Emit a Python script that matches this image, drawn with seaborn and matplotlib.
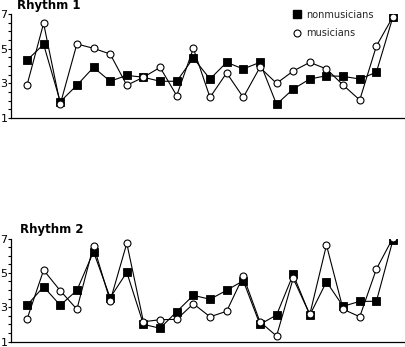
import matplotlib
matplotlib.use("Agg")
import matplotlib.pyplot as plt
from matplotlib.lines import Line2D
from matplotlib.ticker import MultipleLocator
import numpy as np
import pandas as pd
import seaborn as sns

# Ratings per rhythm position (1..23)
positions = list(range(1, 24))

r1_nonmusicians = [4.33, 5.25, 1.94, 2.89, 3.92, 3.12, 3.46, 3.35, 3.12, 3.12, 4.46,
                   3.25, 4.21, 3.83, 4.21, 1.79, 2.67, 3.25, 3.44, 3.40, 3.25, 3.64, 6.85]
r1_musicians = [2.89, 6.46, 1.79, 5.27, 5.02, 4.69, 2.89, 3.35, 3.92, 2.29, 5.02,
                2.19, 3.60, 2.19, 3.92, 3.00, 3.71, 4.21, 3.83, 2.90, 2.04, 5.15, 6.85]

r2_nonmusicians = [3.11, 4.19, 3.11, 3.98, 6.23, 3.55, 5.03, 2.00, 1.77, 2.74, 3.69,
                   3.46, 3.98, 4.54, 2.00, 2.54, 4.91, 2.54, 4.48, 3.05, 3.34, 3.34, 6.93]
r2_musicians = [2.29, 5.16, 3.96, 2.88, 6.58, 3.36, 6.72, 2.15, 2.27, 2.29, 3.20,
                2.44, 2.76, 4.80, 2.15, 1.32, 4.68, 2.58, 6.62, 2.88, 2.44, 5.22, 7.04]

titles = ["Rhythm 1", "Rhythm 2"]
y_ticks = [1, 3, 5, 7]

sns.set_theme(style="white")
plt.rcParams["font.family"] = ["DejaVu Sans"]

W, H = 405, 347
fig = plt.figure(figsize=(W / 100, H / 100), dpi=100)
fig.patch.set_facecolor("white")

# axes boxes in pixels: (left, top, right, bottom)
boxes = [(11, 14, 404, 118), (11, 238.5, 404, 341.5)]
title_pos = [(17, 5), (20, 230)]
frames = [
    pd.DataFrame({"pos": positions, "nonmusicians": r1_nonmusicians, "musicians": r1_musicians}),
    pd.DataFrame({"pos": positions, "nonmusicians": r2_nonmusicians, "musicians": r2_musicians}),
]

for (l, t, r, b), df, title, (tx, ty) in zip(boxes, frames, titles, title_pos):
    ax = fig.add_axes([l / W, 1 - b / H, (r - l) / W, (b - t) / H])
    ax.set_facecolor("white")
    sns.lineplot(data=df, x="pos", y="nonmusicians", ax=ax, color="black", lw=0.8,
                 marker="s", markersize=5.2, markerfacecolor="black",
                 markeredgecolor="black", markeredgewidth=0.6, zorder=2)
    sns.lineplot(data=df, x="pos", y="musicians", ax=ax, color="black", lw=0.8,
                 marker="o", markersize=5.0, markerfacecolor="white",
                 markeredgecolor="black", markeredgewidth=0.8, zorder=3)
    ax.set_xlim(0.04, 23.66)
    ax.set_ylim(1, 7)
    ax.set_xlabel("")
    ax.set_ylabel("")
    ax.set_xticks([])
    ax.set_yticks(y_ticks)
    ax.yaxis.set_minor_locator(MultipleLocator(0.5))
    ax.tick_params(axis="y", which="major", left=True, length=2, width=0.8,
                   color="black", labelsize=8, pad=0.5, labelcolor="black")
    ax.tick_params(axis="y", which="minor", left=True, length=2, width=0.8, color="black")
    for side in ("top", "right"):
        ax.spines[side].set_visible(False)
    for side in ("left", "bottom"):
        ax.spines[side].set_color("black")
        ax.spines[side].set_linewidth(0.9)
    ax.grid(False)
    fig.text(tx / W, 1 - ty / H, title, fontsize=8.5, fontweight="bold",
             ha="left", va="center", color="black")

handles = [
    Line2D([], [], ls="none", marker="s", markersize=5.2, markerfacecolor="black",
           markeredgecolor="black", label="nonmusicians"),
    Line2D([], [], ls="none", marker="o", markersize=5.0, markerfacecolor="white",
           markeredgecolor="black", markeredgewidth=0.8, label="musicians"),
]
fig.legend(handles=handles, loc="upper left", bbox_to_anchor=(292 / W, 1 - 9.5 / H),
           frameon=False, fontsize=7, handlelength=1.0, handletextpad=0.5,
           labelspacing=0.9, borderpad=0, borderaxespad=0)

fig.savefig("out.png", dpi=100, facecolor="white")
